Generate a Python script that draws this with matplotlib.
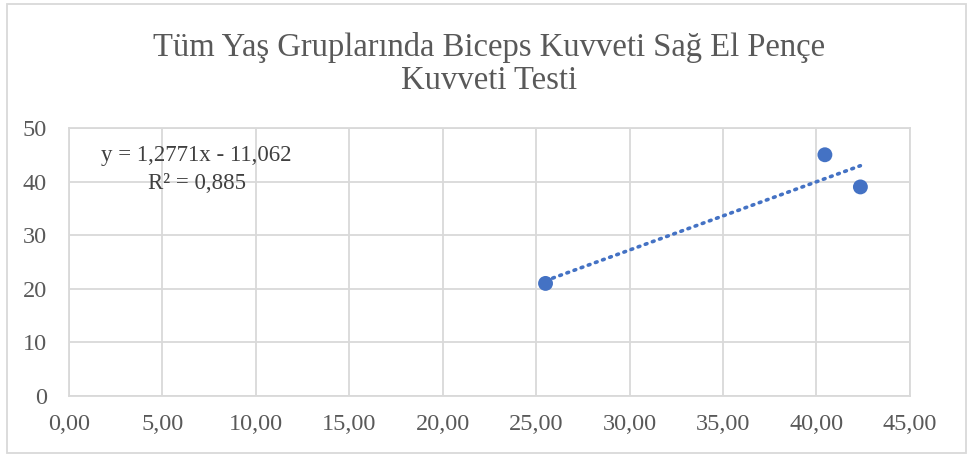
import matplotlib
matplotlib.use("Agg")
import matplotlib.pyplot as plt
import numpy as np
from matplotlib.patches import Rectangle

x_vals = [25.5, 40.45, 42.35]
y_vals = [21, 45, 39]
x_ticks = [0, 5, 10, 15, 20, 25, 30, 35, 40, 45]
y_ticks = [0, 10, 20, 30, 40, 50]
title = "Tüm Yaş Gruplarında Biceps Kuvveti Sağ El Pençe\nKuvveti Testi"
eq_text = "y = 1,2771x - 11,062\nR² = 0,885"

plt.rcParams['font.family'] = ['Liberation Serif', 'DejaVu Serif']

fig = plt.figure(figsize=(9.68, 4.57), dpi=100)
ax = fig.add_axes([0.0713, 0.1335, 0.8687, 0.5865])

col = '#4472C4'
ax.scatter(x_vals, y_vals, s=115, color=col, zorder=3, edgecolors='none')

slope, intercept = np.polyfit(x_vals, y_vals, 1)
xs = np.array([min(x_vals), max(x_vals)])
ax.plot(xs, slope * xs + intercept, color=col, lw=2.6, linestyle=(0, (0.5, 1.6)),
        dash_capstyle='round', zorder=2)

ax.set_xlim(0, 45)
ax.set_ylim(0, 50)
ax.set_xticks(x_ticks)
ax.set_yticks(y_ticks)
ax.set_xticklabels([f"{v:.2f}".replace('.', ',') for v in x_ticks])
ax.set_yticklabels([str(v) for v in y_ticks])
ax.tick_params(axis='both', length=0, labelsize=17.5, colors='#595959')
ax.tick_params(axis='x', pad=13)
ax.tick_params(axis='y', pad=16)
ax.grid(True, color='#D9D9D9', lw=1.3)
ax.set_axisbelow(True)
for s in ax.spines.values():
    s.set_color('#D9D9D9')
    s.set_linewidth(1.3)

fig.text(0.505, 0.86, title, ha='center', va='center', fontsize=23.5,
         color='#595959', linespacing=1.1)
fig.text(0.203, 0.629, eq_text, ha='center', va='center',
         fontsize=16.5, color='#404040', linespacing=1.4)

fig.patches.append(Rectangle((7 / 968, 4 / 457), 959 / 968, 449 / 457, transform=fig.transFigure,
                             fill=False, edgecolor='#D9D9D9', lw=1.3))

fig.savefig('out.png', dpi=100)
